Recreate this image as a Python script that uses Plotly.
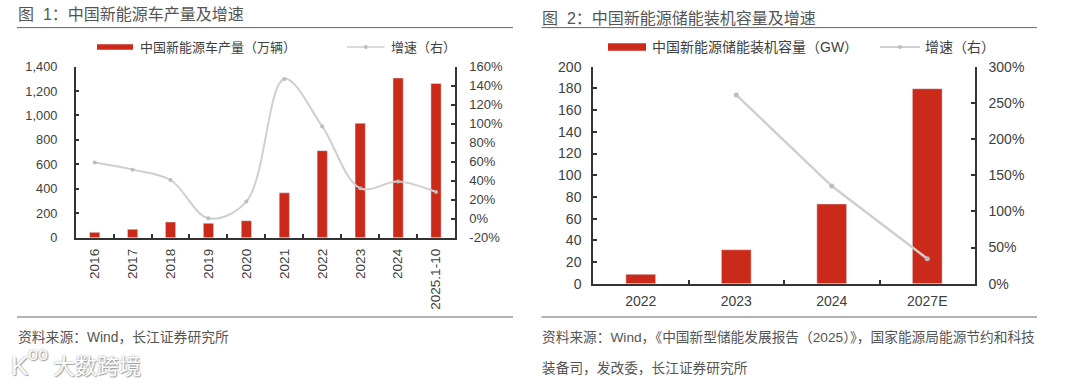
import plotly.graph_objects as go

W, H = 1080, 383
RED = "#CB2A1A"
GREY = "#CFCFCF"
MARK = "#BDBDBD"
AXIS = "#333333"
TXT = "#404040"
CJK = "Noto Sans CJK SC"
LAT = "Liberation Sans"

left_categories = ["2016", "2017", "2018", "2019", "2020", "2021", "2022", "2023", "2024", "2025.1-10"]
left_output = [44, 69, 128, 118, 139, 367, 712, 937, 1307, 1262]
left_growth = [59, 51.6, 40.7, 0.4, 18, 147, 97, 32, 39, 28]
left_y_ticks = [0, 200, 400, 600, 800, 1000, 1200, 1400]
left_y_labels = ["0", "200", "400", "600", "800", "1,000", "1,200", "1,400"]
left_y2_ticks = [-20, 0, 20, 40, 60, 80, 100, 120, 140, 160]
left_y2_labels = ["-20%", "0%", "20%", "40%", "60%", "80%", "100%", "120%", "140%", "160%"]

right_categories = ["2022", "2023", "2024", "2027E"]
right_capacity = [8.7, 31.3, 73.5, 179.7]
right_growth = [None, 261, 135, 34.6]
right_y_ticks = [0, 20, 40, 60, 80, 100, 120, 140, 160, 180, 200]
right_y2_ticks = [0, 50, 100, 150, 200, 250, 300]
right_y2_labels = ["0%", "50%", "100%", "150%", "200%", "250%", "300%"]


def px(x):
    return x / W


def py(y):
    return 1 - y / H


fig = go.Figure()
fig.add_trace(go.Bar(x=left_categories, y=left_output, marker_color=RED, xaxis="x", yaxis="y",
                     name="中国新能源车产量\uff08万辆\uff09", showlegend=False))
fig.add_trace(go.Scatter(x=left_categories, y=left_growth, mode="lines+markers", xaxis="x", yaxis="y2",
                         line=dict(color=GREY, width=2, shape="spline", smoothing=1.0),
                         marker=dict(color=MARK, size=4), name="增速\uff08右\uff09", showlegend=False))
fig.add_trace(go.Bar(x=right_categories, y=right_capacity, marker_color=RED, xaxis="x2", yaxis="y3", width=0.312,
                     name="中国新能源储能装机容量\uff08GW\uff09", showlegend=False))
fig.add_trace(go.Scatter(x=right_categories, y=right_growth, mode="lines+markers", xaxis="x2", yaxis="y4",
                         line=dict(color=GREY, width=2.5), marker=dict(color=MARK, size=5),
                         name="增速\uff08右\uff09", showlegend=False))


def x_axis(domain, anchor, angle, standoff, rng, size):
    return dict(domain=domain, anchor=anchor, type="category", range=rng, tickson="boundaries", ticks="inside",
                ticklen=4, tickwidth=1.5, tickcolor=AXIS, showline=True, linecolor=AXIS, linewidth=1.5,
                showgrid=False, tickangle=angle, ticklabelstandoff=standoff, fixedrange=True,
                tickfont=dict(family=LAT, size=size, color=TXT))


def y_axis(domain, rng, ticks, side, anchor, overlay=None, labels=None, standoff=12, size=13):
    d = dict(domain=domain, range=rng, tickmode="array", tickvals=ticks, side=side, anchor=anchor, ticks="inside",
             ticklen=4, tickwidth=1.5, tickcolor=AXIS, showline=True, linecolor=AXIS, linewidth=1.5,
             showgrid=False, zeroline=False, ticklabelstandoff=standoff, fixedrange=True,
             tickfont=dict(family=LAT, size=size, color=TXT))
    if overlay:
        d["overlaying"] = overlay
    if labels:
        d["ticktext"] = labels
    return d


lx = [px(75.7), px(455)]
ly = [py(237.7), py(66.6)]
rx = [px(593), px(975)]
ry = [py(283.7), py(66.7)]

fig.update_layout(
    width=W, height=H, margin=dict(l=0, r=0, t=0, b=0, autoexpand=False), paper_bgcolor="white",
    plot_bgcolor="rgba(0,0,0,0)", bargap=0.73, showlegend=False,
    xaxis=x_axis(lx, "y", -90, 4, [-0.5, 9.5], 13.5),
    yaxis=y_axis(ly, [0, 1400], left_y_ticks, "left", "x", labels=left_y_labels, standoff=14, size=12.8),
    yaxis2=y_axis(ly, [-20, 160], left_y2_ticks, "right", "x", overlay="y", labels=left_y2_labels, standoff=10),
    xaxis2=x_axis(rx, "y3", 0, 4, [-0.5, 3.5], 14),
    yaxis3=y_axis(ry, [0, 200], right_y_ticks, "left", "x2", standoff=7, size=14),
    yaxis4=y_axis(ry, [0, 300], right_y2_ticks, "right", "x2", overlay="y3", labels=right_y2_labels, standoff=9,
                  size=14),
)

shapes = []
for x0, x1 in [(17, 513), (541.5, 1037)]:
    for y in (27.6, 317):
        shapes.append(dict(type="line", xref="paper", yref="paper", x0=px(x0), x1=px(x1), y0=py(y), y1=py(y),
                           line=dict(color="#666666", width=1)))
for x0, x1, h in [(97, 133, 5.5), (608, 646, 7.5)]:
    shapes.append(dict(type="rect", xref="paper", yref="paper", x0=px(x0), x1=px(x1), y0=py(47 + h / 2),
                       y1=py(47 - h / 2), fillcolor=RED, line=dict(width=0)))
for x0, x1, w in [(347, 384.5, 1.5), (880, 920, 2)]:
    shapes.append(dict(type="line", xref="paper", yref="paper", x0=px(x0), x1=px(x1), y0=py(47), y1=py(47),
                       line=dict(color=GREY, width=w)))
    cx = (x0 + x1) / 2
    shapes.append(dict(type="circle", xref="paper", yref="paper", x0=px(cx - 2), x1=px(cx + 2), y0=py(49), y1=py(45),
                       fillcolor=MARK, line=dict(width=0)))
fig.update_layout(shapes=shapes)


def label(x, y, text, size, color=TXT, shadow=None):
    font = dict(family=f"{LAT}, {CJK}", size=size, color=color)
    if shadow:
        font["shadow"] = shadow
    fig.add_annotation(xref="paper", yref="paper", x=px(x), y=py(y), text=text, showarrow=False, xanchor="left",
                       yanchor="middle", font=font, borderpad=0)


label(17, 15, "图  1\uff1a中国新能源车产量及增速", 16, "#555555")
label(541, 18, "图  2\uff1a中国新能源储能装机容量及增速", 16, "#555555")
label(139, 47, "中国新能源车产量\uff08万辆\uff09", 13)
label(390, 47, "增速\uff08右\uff09", 13)
label(651, 47, "中国新能源储能装机容量\uff08GW\uff09", 14)
label(924, 47, "增速\uff08右\uff09", 14)
label(17, 337, "资料来源\uff1aWind\uff0c长江证券研究所", 13.8, "#555555")
label(541, 337, "资料来源\uff1aWind\uff0c《中国新型储能发展报告\uff082025\uff09》\uff0c国家能源局能源节约和科技", 13.7, "#555555")
label(541, 368, "装备司\uff0c发改委\uff0c长江证券研究所", 13.7, "#555555")
shadow = "0 0 2px #888888, 1px 1px 1px #aaaaaa"
label(10, 366, "K", 26, "white", shadow)
label(27, 354, "oo", 18, "white", shadow)
label(52, 366, "大数跨境", 22, "white", shadow)

fig.write_html("out.html", config=dict(displayModeBar=False),
               post_script="document.body.style.margin='0';document.body.style.overflow='hidden';")
